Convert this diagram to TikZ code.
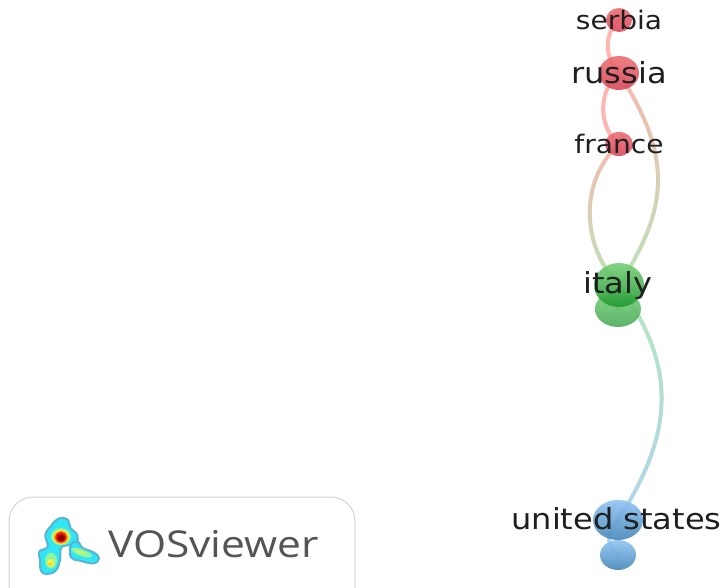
\documentclass[tikz,border=0pt]{standalone}
\usepackage{fontspec}
\setmainfont{DejaVu Sans}
\newfontfamily\logofont{Open Sans}
\usetikzlibrary{decorations.markings}
\definecolor{edgered}{HTML}{FFB5B0}
\definecolor{edgegreen}{HTML}{B5E8B8}
\definecolor{edgeblue}{HTML}{B0D4F0}
\definecolor{redtop}{HTML}{EE6E74}
\definecolor{redbot}{HTML}{D84A5C}
\definecolor{greentop}{HTML}{78D078}
\definecolor{greenbot}{HTML}{209830}
\definecolor{greenbotb}{HTML}{4CAC5C}
\definecolor{bluetop}{HTML}{90C4F4}
\definecolor{bluebot}{HTML}{4486B8}
\definecolor{heatedge}{HTML}{58B4D4}
\definecolor{heatcyan}{HTML}{30E6F4}
\definecolor{heatgreen}{HTML}{90F4A0}
\definecolor{heatyellow}{HTML}{F0F048}
\definecolor{heatorange}{HTML}{FF9A10}
\definecolor{heatred}{HTML}{E81810}
\definecolor{heatdark}{HTML}{8C0808}
\tikzset{
  x=1pt,y=-1pt,
  gradedge/.style n args={2}{line width=3.8pt,line cap=round,draw={#1!50!#2},
    postaction={decorate,decoration={markings,
      mark=between positions 0 and 1 step 1pt with {
        \pgfmathsetmacro\mixpct{100*(1-\pgfkeysvalueof{/pgf/decoration/mark info/sequence number}/\pgfdecoratedpathlength*1pt)}
        \pgfmathsetmacro\mixclip{max(0,min(100,\mixpct))}
        \fill[#1!\mixclip!#2] (0,0) circle[radius=1.9pt];
      }}}},
  label/.style={text=black!88,inner sep=0pt,anchor=center},
  logoframe/.style={draw=black!17,line width=1pt,rounded corners=24pt},
  heatblob/.style={fill=heatcyan,draw=heatedge,line width=2pt}
}
\newcommand{\bigtext}[1]{\fontsize{29}{29}\selectfont\scalebox{1.105}[1]{#1}}
\newcommand{\smalltext}[1]{\fontsize{25.5}{26}\selectfont\scalebox{1.1}[1]{#1}}
\newcommand{\vosnode}[6]{% x, y, rx, ry, top, bottom
  \shade[top color=#5,bottom color=#6,fill opacity=.9] (#1,#2) ellipse[x radius=#3,y radius=#4];
}
\begin{document}
\begin{tikzpicture}
\useasboundingbox (0,0) rectangle (724,588);
\clip (0,0) rectangle (724,588);
\fill[white] (0,0) rectangle (724,588);
\coordinate (serbia) at (619,20);
\coordinate (russia) at (619,73);
\coordinate (france) at (619,144);
\coordinate (italy) at (619,285);
\coordinate (italyb) at (618,309);
\coordinate (usa) at (618,520);
\coordinate (usab) at (618,555);
% connectors
\draw[gradedge={edgered}{edgered}] (serbia) .. controls (604,33) and (604,58) .. (russia);
\draw[gradedge={edgered}{edgered}] (russia) .. controls (598,90) and (598,128) .. (france);
\draw[gradedge={edgered}{edgegreen}] (france) .. controls (580,180) and (580,245) .. (italy);
\draw[gradedge={edgered}{edgegreen}] (russia) .. controls (671,155) and (671,205) .. (italy);
\draw[gradedge={edgegreen}{edgeblue}] (italy) .. controls (676,365) and (676,430) .. (usa);
\draw[gradedge={edgeblue}{edgeblue}] (usa) .. controls (606,532) and (606,545) .. (usab);
\draw[gradedge={edgegreen}{edgegreen}] (italy) .. controls (614,292) and (614,300) .. (italyb);
% bubbles
\vosnode{618}{309}{23}{18}{greentop}{greenbotb}
\vosnode{619}{285}{25}{22}{greentop}{greenbot}
\vosnode{619}{20}{13}{12}{redtop}{redbot}
\vosnode{619}{73}{20}{17}{redtop}{redbot}
\vosnode{619}{144}{14}{12}{redtop}{redbot}
\vosnode{618}{555}{18}{15}{bluetop}{bluebot}
\vosnode{618}{520}{25}{20}{bluetop}{bluebot}
% labels
\node[label] (lserbia) at (619,20) {\smalltext{serbia}};
\node[label] (lrussia) at (619,73) {\bigtext{russia}};
\node[label] (lfrance) at (619,144) {\smalltext{france}};
\node[label] (litaly) at (618,286) {\bigtext{italy}};
\node[label] (lusa) at (616.5,519) {\bigtext{united states}};
% logo
\draw[logoframe] (9,497) rectangle (355,620);
\node[anchor=base west,inner sep=0pt,text=black!67] (logo) at (108,557) {\logofont\fontsize{37}{37}\selectfont\scalebox{1.15}[1]{VOSviewer}};
\begin{scope}[shift={(30,510)},x=.3333pt,y=-.3333pt]
  \draw[heatblob] plot[smooth cycle,tension=.7] coordinates {(85,26) (112,28) (122,55) (142,75) (137,102) (105,107) (92,117) (90,150) (77,182) (50,192) (33,182) (30,150) (28,125) (53,110) (46,75) (63,48)};
  \draw[heatblob] plot[smooth cycle,tension=.7] coordinates {(123,105) (145,96) (157,113) (192,128) (207,145) (190,160) (150,152) (123,142)};
  \fill[heatgreen] (93,80) ellipse[x radius=30,y radius=26];
  \fill[heatyellow] (93,81) ellipse[x radius=25,y radius=22];
  \fill[heatorange] (93,82) ellipse[x radius=21,y radius=19];
  \fill[heatred] (93,82) ellipse[x radius=17,y radius=16];
  \fill[heatdark] (94,84) ellipse[x radius=11,y radius=10];
  \fill[heatgreen] (63,152) ellipse[x radius=18,y radius=24];
  \fill[heatyellow] (62,159) ellipse[x radius=11,y radius=12];
  \fill[heatorange!60!heatyellow] (60,163) ellipse[x radius=5,y radius=4];
  \fill[heatgreen,rotate around={-20:(155,128)}] (155,128) ellipse[x radius=33,y radius=10];
  \fill[heatyellow!50!heatgreen,rotate around={-20:(152,127)}] (152,127) ellipse[x radius=18,y radius=5];
\end{scope}
\end{tikzpicture}
\end{document}
